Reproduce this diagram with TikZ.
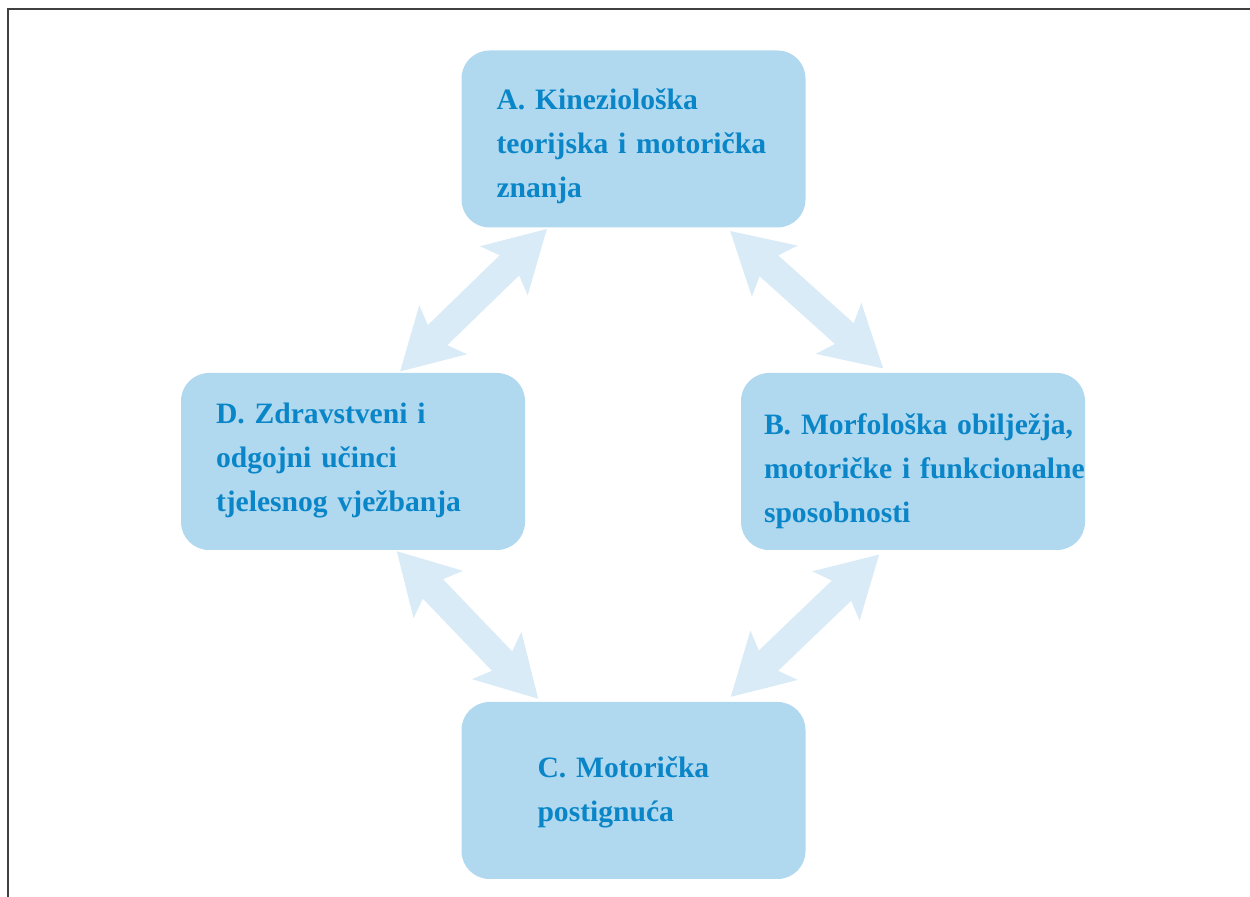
\documentclass[tikz,border=0pt]{standalone}
\usepackage{fontspec}
\setmainfont{Liberation Serif}
\usetikzlibrary{arrows.meta,calc}

\definecolor{boxblue}{HTML}{B0D8EF}
\definecolor{textblue}{HTML}{0A86C8}
\definecolor{arrowblue}{HTML}{D9EBF6}

\tikzset{
  area/.style={fill=boxblue, rounded corners=14pt, minimum width=172pt,
    minimum height=88.5pt, inner sep=0pt},
  areatext/.style={anchor=base west, inner sep=0pt, text width=170pt,
    align=left, text=textblue,
    font=\fontsize{14.8pt}{22pt}\selectfont\bfseries},
  link/.style={arrowblue, line width=14pt,
    {Stealth[length=29.5pt,width=33pt,inset=6pt]}-{Stealth[length=29.5pt,width=33pt,inset=6pt]}}
}

\begin{document}
\begin{tikzpicture}[x=0.5pt,y=0.5pt]
    \useasboundingbox (0,0) rectangle (1250,-897);
    \draw[black!75,line width=1pt] (8,-897) -- (8,-9.5) -- (1250,-9.5);
    % the four areas
    \node[area] (A) at (633.5,-139) {};
    \node[area] (B) at (913,-461.5) {};
    \node[area] (C) at (633.5,-790.5) {};
    \node[area] (D) at (353,-461.5) {};
    \node[areatext] (Atext) at ($(A.north west)+(35,-59.5)$) {A. Kineziološka\\teorijska i motorička\\znanja};
    \node[areatext] (Btext) at ($(B.north west)+(23,-62)$) {B. Morfološka obilježja,\\motoričke i funkcionalne\\sposobnosti};
    \node[areatext] (Ctext) at ($(C.north west)+(76,-75.7)$) {C. Motorička\\postignuća};
    \node[areatext] (Dtext) at ($(D.north west)+(35,-51)$) {D. Zdravstveni i\\odgojni učinci\\tjelesnog vježbanja};
    % arrows between them
    \draw[link] ($(A.south)+(-86.5,-1)$) -- ($(D.north)+(47,1)$);
    \draw[link] ($(A.south)+(96.5,-3)$) -- ($(B.north)+(-29.7,4)$);
    \draw[link] ($(D.south)+(43.7,-0.7)$) -- ($(C.north)+(-95.2,2.7)$);
    \draw[link] ($(B.south)+(-33.7,-4)$) -- ($(C.north)+(97.2,4.7)$);
\end{tikzpicture}
\end{document}
